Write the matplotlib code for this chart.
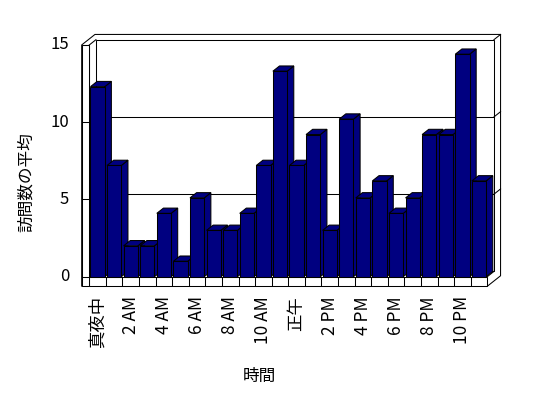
import numpy as np
import matplotlib
matplotlib.use('Agg')
import matplotlib.pyplot as plt
from matplotlib.patches import Polygon, Rectangle

plt.rcParams['font.family'] = ['Noto Sans CJK JP', 'DejaVu Sans']

# データ (時間ごとの訪問数の平均)
hours = list(range(24))
visits = [12.3, 7.2, 2.0, 2.0, 4.1, 1.0, 5.1, 3.0, 3.0, 4.1, 7.2, 13.3,
          7.2, 9.2, 3.0, 10.2, 5.1, 6.2, 4.1, 5.1, 9.2, 9.2, 14.4, 6.2]
tick_labels = ['真夜中', '2 AM', '4 AM', '6 AM', '8 AM', '10 AM',
               '正午', '2 PM', '4 PM', '6 PM', '8 PM', '10 PM']
y_ticks = [0, 5, 10, 15]

fig = plt.figure(figsize=(5.48, 3.98), dpi=100)
ax = fig.add_axes([0, 0, 1, 1])
ax.set_xlim(-5.886, 27.161)
ax.set_ylim(-7.851, 17.909)
ax.axis('off')

n = len(hours)
left, right, top = -0.5, n - 0.5, y_ticks[-1]
dx, dy = 0.40, 0.34      # 奥行き
wt, ft = 0.46, 0.62      # 壁と床の厚み
bw = 0.86
ec, lw = 'black', 0.75
navy = '#000080'

# 壁と床の外枠
outer = [(left - wt, -ft), (right, -ft), (right + 2 * dx, -ft + 2 * dy),
         (right + 2 * dx, top + 2 * dy), (left - wt + 2 * dx, top + 2 * dy),
         (left - wt, top)]
ax.add_patch(Polygon(outer, closed=True, fc='white', ec=ec, lw=lw, zorder=1))

# 奥の壁
ax.add_patch(Polygon([(left + dx, dy), (right + dx, dy), (right + dx, top + dy),
                      (left + dx, top + dy)], closed=True, fc='white', ec=ec,
                     lw=lw, zorder=2))
for t in y_ticks[1:-1]:
    ax.plot([left + dx, right + dx], [t + dy, t + dy], color=ec, lw=lw, zorder=3)
for t in y_ticks[1:]:
    ax.plot([right + dx, right + 2 * dx], [t + dy, t + 2 * dy], color=ec, lw=lw, zorder=3)
ax.plot([left, left + dx], [top, top + dy], color=ec, lw=lw, zorder=3)
ax.plot([left, left], [0, top], color=ec, lw=lw, zorder=3)
ax.plot([right, right + dx], [0, dy], color=ec, lw=lw, zorder=3)

# 床の前面
ax.add_patch(Rectangle((left, -ft), n, ft, fc='white', ec=ec, lw=lw, zorder=4))
ax.vlines(np.arange(1, n) - 0.5, -ft, 0, color=ec, lw=lw, zorder=4)

# 左の壁の前面と目盛り
ax.add_patch(Rectangle((left - wt, -ft), wt, top + ft, fc='white', ec=ec, lw=lw, zorder=4))
ax.hlines(y_ticks, left - wt, left, color=ec, lw=lw, zorder=4)
for t in y_ticks:
    ax.annotate(str(t), xy=(left - wt, t), xytext=(-9, 0), textcoords='offset points',
                ha='right', va='center', fontsize=12)

# 棒 (左から順に描く)
for i, v in zip(hours, visits):
    x0, x1 = i - bw / 2, i + bw / 2
    z = 10 + i
    ax.add_patch(Polygon([(x1, 0), (x1 + dx, dy), (x1 + dx, v + dy), (x1, v)],
                         closed=True, fc=navy, ec=ec, lw=lw, zorder=z))
    ax.add_patch(Polygon([(x0, v), (x1, v), (x1 + dx, v + dy), (x0 + dx, v + dy)],
                         closed=True, fc=navy, ec=ec, lw=lw, zorder=z))
    ax.add_patch(Rectangle((x0, 0), bw, v, fc=navy, ec=ec, lw=lw, zorder=z))

# 横軸ラベル
for j, lab in enumerate(tick_labels):
    ax.annotate(lab, xy=(hours[2 * j], -ft), xytext=(0, -7), textcoords='offset points',
                rotation=90, ha='center', va='top', fontsize=12.5)

fig.text(0.4726, 0.0535, '時間', ha='center', va='center', fontsize=12)
fig.text(0.0478, 0.5415, '訪問数の平均', ha='center', va='center', rotation=90, fontsize=12)

fig.savefig('out.png', dpi=100)
